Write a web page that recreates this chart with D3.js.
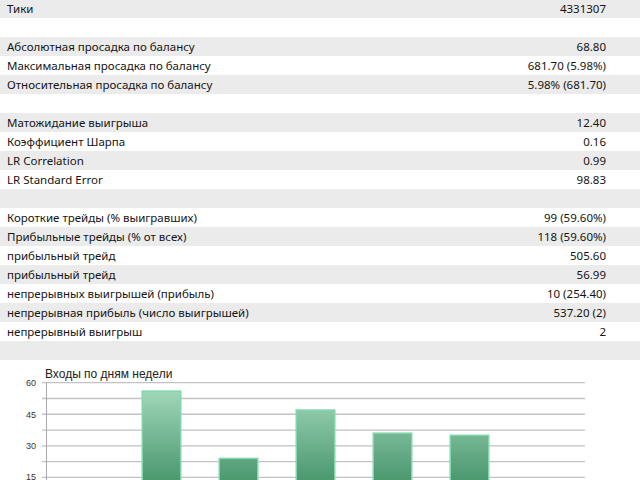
<!DOCTYPE html>
<html>
<head>
<meta charset="utf-8">
<script src="https://cdn.jsdelivr.net/npm/d3@7"></script>
<style>
  html, body { margin: 0; padding: 0; background: #fff; }
  svg { display: block; }
</style>
</head>
<body>
<svg id="chart" width="640" height="480"></svg>
<script>
// ---- Data ----
const rowLabels = [
  "Тики",
  "",
  "Абсолютная просадка по балансу",
  "Максимальная просадка по балансу",
  "Относительная просадка по балансу",
  "",
  "Матожидание выигрыша",
  "Коэффициент Шарпа",
  "LR Correlation",
  "LR Standard Error",
  "",
  "Короткие трейды (% выигравших)",
  "Прибыльные трейды (% от всех)",
  "прибыльный трейд",
  "прибыльный трейд",
  "непрерывных выигрышей (прибыль)",
  "непрерывная прибыль (число выигрышей)",
  "непрерывный выигрыш",
  ""
];
const rowValues = [
  "4331307",
  "",
  "68.80",
  "681.70 (5.98%)",
  "5.98% (681.70)",
  "",
  "12.40",
  "0.16",
  "0.99",
  "98.83",
  "",
  "99 (59.60%)",
  "118 (59.60%)",
  "505.60",
  "56.99",
  "10 (254.40)",
  "537.20 (2)",
  "2",
  ""
];
const chartTitle = "Входы по дням недели";
const days = ["Вс", "Пн", "Вт", "Ср", "Чт", "Пт", "Сб"];
const entries = [0, 56, 24, 47, 36, 35, 0];
const yTicks = [15, 30, 45, 60];

// ---- Table ----
const svg = d3.select("#chart");
const rowH = 19, rowTop0 = -1;
const rows = svg.append("g").selectAll("g").data(rowLabels).join("g")
  .attr("transform", (d, i) => `translate(0,${rowTop0 + i * rowH})`);
rows.append("rect")
  .attr("width", 640).attr("height", rowH)
  .attr("fill", (d, i) => i % 2 === 0 ? "#ebebeb" : "#ffffff");
const tFont = "'Noto Sans', 'Open Sans', sans-serif";
rows.append("text")
  .attr("x", 7).attr("y", 14.2)
  .attr("font-family", tFont).attr("font-size", 11.5)
  .attr("fill", "#141414")
  .text(d => d);
rows.append("text")
  .attr("x", 606).attr("y", 14.2)
  .attr("text-anchor", "end")
  .attr("font-family", tFont).attr("font-size", 11.5)
  .attr("fill", "#141414")
  .text((d, i) => rowValues[i]);

// ---- Chart ----
const x0 = 46, x1 = 585, yTop = 382.7, yZero = 508.9;
const y = d3.scaleLinear().domain([0, 60]).range([yZero, yTop]);
const x = d3.scaleBand().domain(days).range([x0, x1]).paddingInner(0.5).paddingOuter(0.25);

const defs = svg.append("defs");
const grad = defs.append("linearGradient").attr("id", "barGrad")
  .attr("gradientUnits", "userSpaceOnUse")
  .attr("x1", 0).attr("x2", 0).attr("y1", y(60)).attr("y2", y(15));
grad.append("stop").attr("offset", "0%").attr("stop-color", "#a8dcc1");
grad.append("stop").attr("offset", "100%").attr("stop-color", "#4d9a71");

const chart = svg.append("g");
// grid lines (major and half-step)
const gridVals = d3.range(7.5, 60.01, 7.5);
chart.append("g").selectAll("line").data(gridVals).join("line")
  .attr("x1", x0 - 4).attr("x2", x1)
  .attr("y1", d => y(d)).attr("y2", d => y(d))
  .attr("stroke", "#c2c2c2").attr("stroke-width", 1.3);

// y axis line
chart.append("line")
  .attr("x1", x0 + 0.5).attr("x2", x0 + 0.5)
  .attr("y1", yTop).attr("y2", yZero)
  .attr("stroke", "#a8a8a8").attr("stroke-width", 1);

// y tick labels
chart.append("g").selectAll("text").data(yTicks).join("text")
  .attr("x", 36).attr("y", d => Math.min(y(d) + 3.3, 479.5))
  .attr("text-anchor", "end")
  .attr("font-family", "'Liberation Sans', Arial, sans-serif")
  .attr("font-size", 9)
  .attr("fill", "#333")
  .text(d => d);

// bars
chart.append("g").selectAll("rect").data(entries).join("rect")
  .attr("x", (d, i) => x(days[i]))
  .attr("width", x.bandwidth())
  .attr("y", d => y(d))
  .attr("height", d => yZero - y(d))
  .attr("fill", "url(#barGrad)")
  .attr("stroke", "#82d6aa")
  .attr("stroke-width", 1.5)
  .attr("display", d => d > 0 ? null : "none");

// title
chart.append("text")
  .attr("x", 45).attr("y", 378)
  .attr("font-family", "'Liberation Sans', Arial, sans-serif")
  .attr("font-size", 12)
  .attr("fill", "#222")
  .text(chartTitle);
</script>
</body>
</html>
